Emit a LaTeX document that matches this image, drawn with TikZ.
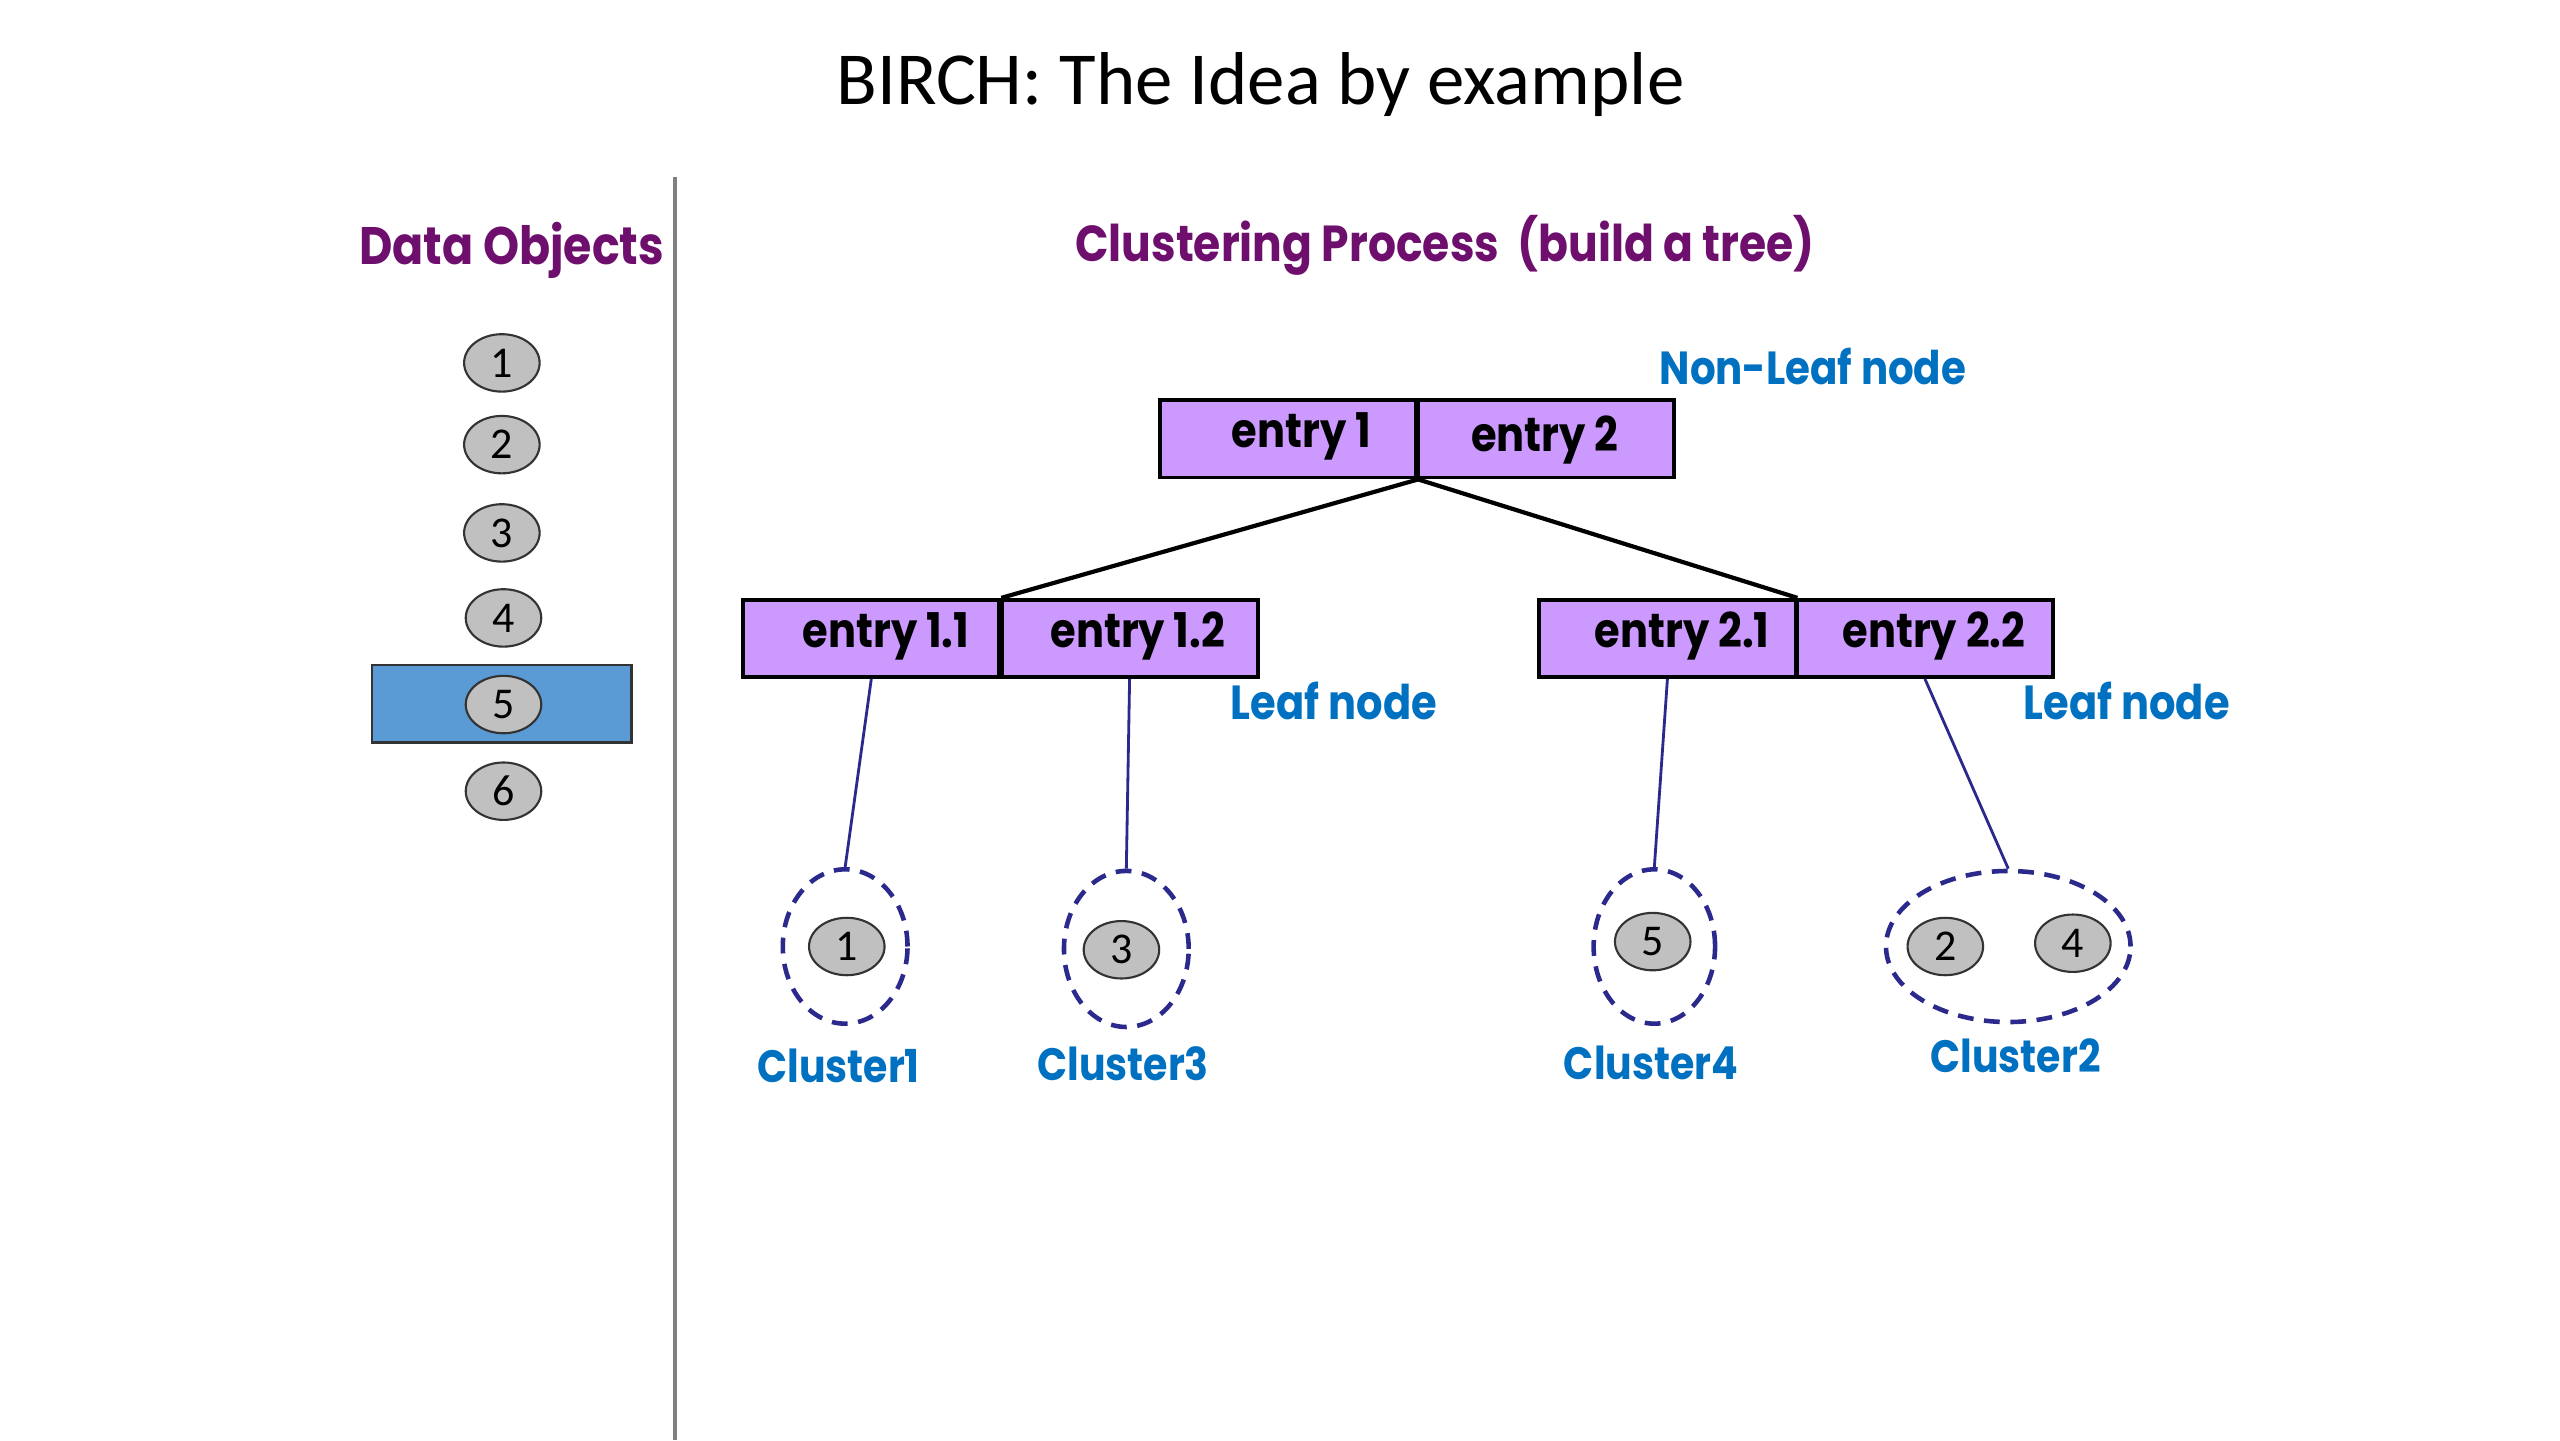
\documentclass[tikz,border=0pt]{standalone}
\usepackage{fontspec}
\setmainfont{Poppins}[FakeStretch=0.87]
\newfontfamily\titlefont{Carlito}
\usetikzlibrary{shapes.geometric}
\definecolor{dpurple}{HTML}{6E0F6E}
\definecolor{lblue}{HTML}{0070C0}
\definecolor{boxfill}{HTML}{CC99FF}
\definecolor{navy}{HTML}{2B2A8C}
\definecolor{selblue}{HTML}{5B9BD5}
\definecolor{objgray}{HTML}{C0C0C0}
\tikzset{
  obj/.style={ellipse, draw=black!80, fill=objgray, line width=0.6pt, minimum width=0.755cm, minimum height=0.574cm, inner sep=0pt, font=\titlefont\fontsize{12.5}{12.5}\selectfont},
  entrybox/.style={rectangle, draw=black, fill=boxfill, line width=1.1pt, minimum width=2.56cm, minimum height=0.771cm, inner sep=0pt},
  entrytext/.style={font=\bfseries\fontsize{13.6}{13.6}\selectfont, inner sep=0pt},
  head/.style={font=\bfseries\fontsize{15}{15}\selectfont, text=dpurple, inner sep=0pt},
  bluelbl/.style={font=\bfseries\fontsize{13.2}{13.2}\selectfont, text=lblue, inner sep=0pt},
  leaflbl/.style={bluelbl, font=\bfseries\fontsize{13.6}{13.6}\selectfont},
  clbl/.style={bluelbl, font=\bfseries\fontsize{12.9}{12.9}\selectfont},
  treeline/.style={line width=1.2pt, black},
  leafline/.style={line width=0.8pt, navy},
  clus/.style={ellipse, draw=navy, line width=1.3pt, dash pattern=on 4.5pt off 3pt, inner sep=0pt}
}
\begin{document}
\begin{tikzpicture}[x=0.016347cm, y=-0.016347cm]
\useasboundingbox (0,0) rectangle (1566,881);
% title
\node[font=\titlefont\fontsize{21.3}{21.3}\selectfont, inner sep=0pt] (title) at (771,52) {BIRCH: The Idea by example};
% divider
\coordinate (vtop) at (413,108);
\coordinate (vbot) at (413,881);
\draw[line width=1pt, black!50] (vtop) -- (vbot);
% headings
\node[head] (hdata) at (313,153) {Data Objects};
\node[head, font=\bfseries\fontsize{14.4}{14.4}\selectfont] (hproc) at (884,150) {Clustering Process\ \ (build a tree)};
% selection rectangle
\node[rectangle, draw=black!80, fill=selblue, line width=0.7pt, minimum width=2.593cm, minimum height=0.771cm] (sel) at (307,430.5) {};
% data objects
\node[obj] (o1) at (307,222) {1};
\node[obj] (o2) at (307,272) {2};
\node[obj] (o3) at (307,326) {3};
\node[obj] (o4) at (308,378) {4};
\node[obj] (o5) at (308,431) {5};
\node[obj] (o6) at (308,484) {6};
% non-leaf node
\node[entrybox] (e1) at (788,268.5) {};
\node[entrybox] (e2) at (945.5,268.5) {};
\node[entrytext] (t1) at (796,267) {entry 1};
\node[entrytext] (t2) at (945,269) {entry 2};
% leaf nodes
\node[entrybox] (e11) at (533,390.5) {};
\node[entrybox] (e12) at (691,390.5) {};
\node[entrybox] (e21) at (1020,390.5) {};
\node[entrybox] (e22) at (1177.5,390.5) {};
\node[entrytext] (t11) at (542,389) {entry 1.1};
\node[entrytext] (t12) at (696,389) {entry 1.2};
\node[entrytext] (t21) at (1029,389) {entry 2.1};
\node[entrytext] (t22) at (1183,389) {entry 2.2};
% labels
\node[bluelbl] (lnl) at (1109,224) {Non-Leaf node};
\node[leaflbl] (ll1) at (816,429) {Leaf node};
\node[leaflbl] (ll2) at (1301,429) {Leaf node};
% tree lines
\draw[treeline] (e1.south east) -- (e11.north east);
\draw[treeline] (e1.south east) -- (e21.north east);
% clusters
\node[clus, minimum width=1.247cm, minimum height=1.543cm] (c1) at (517,579) {};
\node[clus, minimum width=1.247cm, minimum height=1.56cm] (c3) at (689,580.5) {};
\node[clus, minimum width=1.214cm, minimum height=1.543cm] (c4) at (1012,579) {};
\node[clus, minimum width=2.445cm, minimum height=1.51cm] (c2) at (1228.5,579) {};
\node[obj] (k1) at (518,579) {1};
\node[obj] (k3) at (686,581) {3};
\node[obj] (k5) at (1011,576) {5};
\node[obj] (k2) at (1190,579) {2};
\node[obj] (k4) at (1268,577) {4};
% leaf lines
\draw[leafline] (e11.south) -- (c1.north);
\draw[leafline] (e12.south) -- (c3.north);
\draw[leafline] (e21.south) -- (c4.north);
\draw[leafline] (e22.south) -- (c2.north);
% cluster labels
\node[clbl] (n1) at (513,652) {Cluster1};
\node[clbl] (n3) at (687,651) {Cluster3};
\node[clbl] (n4) at (1010,650) {Cluster4};
\node[clbl] (n2) at (1233,646) {Cluster2};
\end{tikzpicture}
\end{document}
